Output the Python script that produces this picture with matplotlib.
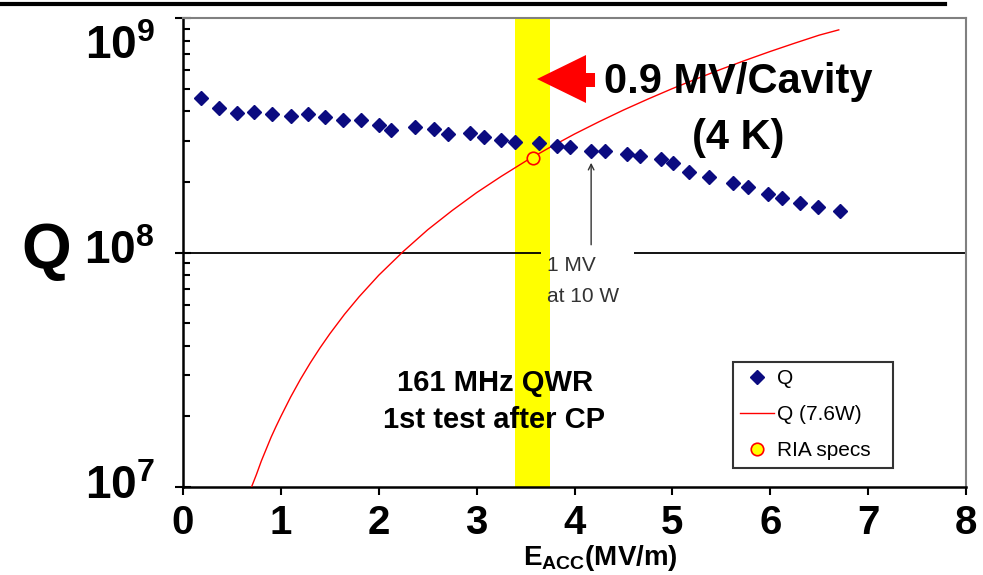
import matplotlib
matplotlib.use('Agg')
import matplotlib.pyplot as plt
import matplotlib.transforms as mtrans
from matplotlib.patches import Polygon
from matplotlib.lines import Line2D

plt.rcParams['font.family'] = ['Liberation Sans', 'DejaVu Sans']
plt.rcParams['mathtext.fontset'] = 'custom'
plt.rcParams['mathtext.rm'] = 'Liberation Sans'
plt.rcParams['mathtext.bf'] = 'Liberation Sans:bold'

# measured Q vs accelerating field
e_acc = [0.18, 0.37, 0.55, 0.73, 0.91, 1.10, 1.28, 1.45, 1.63, 1.82, 2.00, 2.13,
         2.37, 2.56, 2.71, 2.93, 3.08, 3.25, 3.39, 3.64, 3.82, 3.95, 4.17, 4.31,
         4.54, 4.67, 4.88, 5.01, 5.17, 5.37, 5.62, 5.77, 5.98, 6.12, 6.30, 6.49, 6.71]
q_meas = [4.55e8, 4.12e8, 3.95e8, 3.99e8, 3.88e8, 3.83e8, 3.88e8, 3.77e8, 3.66e8,
          3.67e8, 3.50e8, 3.33e8, 3.42e8, 3.35e8, 3.21e8, 3.24e8, 3.12e8, 3.02e8,
          2.97e8, 2.94e8, 2.85e8, 2.83e8, 2.71e8, 2.72e8, 2.62e8, 2.58e8, 2.50e8,
          2.40e8, 2.21e8, 2.09e8, 1.97e8, 1.90e8, 1.77e8, 1.70e8, 1.62e8, 1.56e8, 1.50e8]

# Q at constant 7.6 W
e_curve = [0.70, 0.75, 0.80, 0.85, 0.90, 0.95, 1.0, 1.1, 1.2, 1.3, 1.4, 1.5, 1.65,
           1.8, 2.0, 2.25, 2.5, 2.75, 3.0, 3.25, 3.5, 3.75, 4.0, 4.25, 4.5, 4.75,
           5.0, 5.25, 5.5, 5.75, 6.0, 6.25, 6.5, 6.7]
q_curve = [1.0e7, 1.13e7, 1.29e7, 1.45e7, 1.63e7, 1.81e7, 2.0e7, 2.42e7, 2.88e7,
           3.38e7, 3.92e7, 4.5e7, 5.45e7, 6.48e7, 8.0e7, 1.01e8, 1.25e8, 1.51e8,
           1.80e8, 2.11e8, 2.45e8, 2.81e8, 3.2e8, 3.61e8, 4.05e8, 4.51e8, 5.0e8,
           5.51e8, 6.05e8, 6.61e8, 7.2e8, 7.81e8, 8.45e8, 8.9e8]

ria_e = [3.58]
ria_q = [2.52e8]

band = (3.39, 3.75)
ytick_vals = [1e7, 1e8, 1e9]
ytick_exp = ['7', '8', '9']
xtick_vals = [0, 1, 2, 3, 4, 5, 6, 7, 8]

fig = plt.figure(figsize=(9.83, 5.75), dpi=100)
ax = fig.add_axes([183/983, 1 - 487/575, 783/983, 469/575])

ax.axvspan(band[0], band[1], color='#ffff00', zorder=1, lw=0)
ax.hlines(1e8, 0, 3.66, color='black', lw=1.3, zorder=2)
ax.hlines(1e8, 4.61, 8, color='black', lw=1.3, zorder=2)

ax.plot(e_curve, q_curve, color='red', lw=1.0, zorder=3, label='Q (7.6W)')
ax.plot(e_acc, q_meas, ls='none', marker='D', ms=7.4, color='#0b0b80',
        mec='#0b0b80', zorder=4, label='Q')
ax.plot(ria_e, ria_q, ls='none', marker='o', ms=9, mfc='#ffff00', mec='red',
        mew=1.2, zorder=5, label='RIA specs')

ax.set_yscale('log')
ax.set_xlim(0, 8)
ax.set_ylim(1e7, 1e9)

ax.set_xticks(xtick_vals)
ax.set_xticklabels([str(v) for v in xtick_vals], fontsize=29, fontweight='bold')
ax.tick_params(axis='x', direction='out', length=6, width=1.5, pad=6)
ax.set_yticks(ytick_vals)
ax.set_yticklabels([])
ax.tick_params(axis='y', which='major', direction='inout', length=11, width=1.5)
ax.tick_params(axis='y', which='minor', direction='in', length=5, width=1.5)

for s in ['left', 'bottom']:
    ax.spines[s].set_linewidth(1.8)
    ax.spines[s].set_color('black')
for s in ['top', 'right']:
    ax.spines[s].set_linewidth(1.5)
    ax.spines[s].set_color('#808080')

# y tick labels
blend = mtrans.blended_transform_factory(ax.transAxes, ax.transData)
for v, e in zip(ytick_vals, ytick_exp):
    ax.text(-0.036, v * (0.93 if e == '9' else 1.0), r'$\mathbf{10^{%s}}$' % e,
            transform=blend, ha='right', va='top' if e == '9' else 'center',
            fontsize=33)

fig.text(46/983, 1 - 252/575, 'Q', fontsize=46, fontweight='bold',
         ha='center', va='center')
fig.text(600/983, 1 - 558/575, r'$\mathbf{E}_{\mathbf{ACC}}$(MV/m)', fontsize=20,
         fontweight='bold', ha='center', va='center')

# big red arrow and label
arrow_pts = [(0.4521, 0.8699), (0.5147, 0.9211), (0.5147, 0.8827), (0.5262, 0.8827),
             (0.5262, 0.8529), (0.5147, 0.8529), (0.5147, 0.8188)]
ax.add_patch(Polygon(arrow_pts, closed=True, color='red', transform=ax.transAxes,
                     zorder=6, lw=0))
ax.text(0.5377, 0.8635, '0.9 MV/Cavity', transform=ax.transAxes, fontsize=30,
        fontweight='bold', ha='left', va='center', zorder=7)
ax.text(0.7088, 0.744, '(4 K)', transform=ax.transAxes, fontsize=30,
        fontweight='bold', ha='center', va='center', zorder=7)

ax.text(0.398, 0.2217, '161 MHz QWR', transform=ax.transAxes, fontsize=21,
        fontweight='bold', ha='center', va='center', zorder=7)
ax.text(0.397, 0.1429, '1st test after CP', transform=ax.transAxes, fontsize=21,
        fontweight='bold', ha='center', va='center', zorder=7)

# 1 MV arrow
ax.annotate('', xy=(4.17, 2.48e8), xytext=(4.17, 1.05e8),
            arrowprops=dict(arrowstyle='->', color='#333333', lw=1.0), zorder=6)
ax.text(0.4649, 0.4733, '1 MV', transform=ax.transAxes, fontsize=15,
        color='#333333', ha='left', va='center', zorder=7)
ax.text(0.4649, 0.4072, 'at 10 W', transform=ax.transAxes, fontsize=15,
        color='#333333', ha='left', va='center', zorder=7)

h, l = ax.get_legend_handles_labels()
order = [1, 0, 2]
leg = ax.legend([h[i] for i in order], [l[i] for i in order], loc='upper left',
                bbox_to_anchor=(0.7024, 0.0469, 0.2044, 0.2196), mode='expand',
                borderaxespad=0, fontsize=15, frameon=True, fancybox=False,
                edgecolor='black', handlelength=1.6, handletextpad=0.15,
                labelspacing=0.82, borderpad=0.35, markerscale=1.0)
leg.get_frame().set_linewidth(1.5)
leg.set_zorder(8)

# thick line at top of the slide
fig.add_artist(Line2D([0, 945/983], [1 - 4/575, 1 - 4/575], color='black', lw=3,
                      transform=fig.transFigure))

fig.savefig('out.png', dpi=100)
